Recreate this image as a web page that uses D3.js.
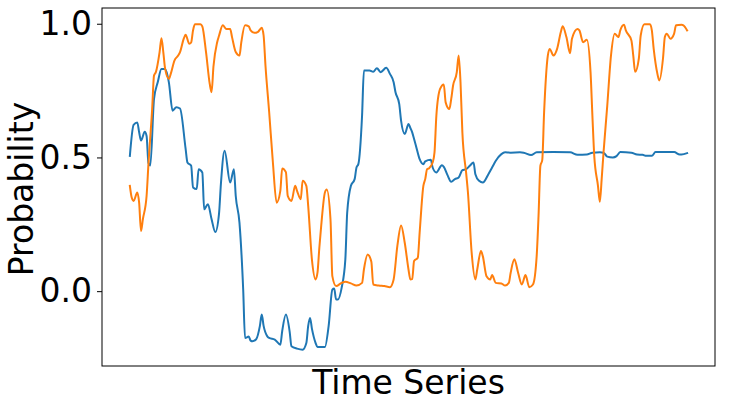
<!DOCTYPE html>
<html>
<head>
<meta charset="utf-8">
<script src="https://cdn.jsdelivr.net/npm/d3@7"></script>
<style>
  html, body { margin: 0; padding: 0; background: #fff; }
  svg { display: block; font-family: "DejaVu Sans", sans-serif; }
</style>
</head>
<body>
<svg id="chart" width="733" height="406"></svg>
<script>
// ---- data (time index 0..300, probability) ----
const blueT = [0,2,4,5,6,8,9,10,11,13,15,17,19,21,23,25,27,30,31,33,34,36,37,39,40,42,44,46,48,49,51,54,56,57,59,61,62,64,65,66,68,70,71,72,74,75,78,81,82,84,86,87,90,93,95,96,97,98,100,101,105,107,109,110,111,112,114,116,117,119,121,122,123,125,126,129,131,133,135,138,140,142,143,145,146,148,150,151,152,153,154,156,158,159,162,163,165,168,169,171,173,175,177,179,181,183,185,186,188,190,193,195,197,200,202,205,210,212,216,219,228,237,241,246,249,253,255,257,260,262,264,270,273,276,278,281,283,293,296,297,300];
const blueV = [0.506,0.622,0.631,0.594,0.563,0.596,0.58,0.48,0.47,0.719,0.781,0.831,0.831,0.781,0.675,0.688,0.683,0.533,0.481,0.469,0.388,0.382,0.456,0.444,0.306,0.325,0.269,0.221,0.29,0.40,0.525,0.406,0.456,0.356,0.256,0.007,-0.175,-0.17,-0.185,-0.1875,-0.18,-0.13,-0.0875,-0.13,-0.169,-0.175,-0.181,-0.2,-0.15,-0.0875,-0.15,-0.206,-0.215,-0.219,-0.194,-0.13,-0.1,-0.14,-0.194,-0.209,-0.209,-0.131,0.006,0.01,-0.031,-0.031,0.0125,0.119,0.294,0.394,0.419,0.4625,0.475,0.656,0.825,0.825,0.82,0.834,0.819,0.835,0.8125,0.781,0.744,0.70,0.638,0.588,0.625,0.61,0.594,0.569,0.544,0.494,0.475,0.485,0.491,0.4625,0.444,0.471,0.465,0.434,0.409,0.419,0.425,0.4525,0.456,0.469,0.481,0.4375,0.4125,0.406,0.4375,0.4625,0.4875,0.5125,0.519,0.518,0.519,0.518,0.509,0.519,0.52,0.519,0.51,0.511,0.518,0.519,0.518,0.503,0.5,0.505,0.52,0.518,0.511,0.51,0.506,0.506,0.52,0.52,0.511,0.511,0.516];

const orangeT = [0,1,2,4,5,6,7,9,10,12,13,14,16,17,18,19,21,22,24,26,27,29,30,32,33,34,35,38,39,41,43,44,45,47,48,50,52,54,55,57,59,60,62,64,65,67,69,71,72,73,75,77,79,81,82,84,85,87,89,90,92,93,95,96,98,100,101,102,103,105,106,108,109,111,114,116,119,122,125,126,128,130,131,134,137,140,142,144,146,148,150,151,152,153,155,156,158,159,160,161,163,164,165,167,169,170,172,173,174,176,177,178,179,181,182,184,186,187,189,190,192,194,195,197,200,202,204,205,207,209,211,213,215,217,219,220,221,222,223,225,226,228,230,232,233,235,237,238,241,242,244,246,248,249,250,252,253,254,255,257,259,261,263,264,266,267,270,271,272,274,275,277,280,281,282,284,285,287,288,289,291,293,294,297,298,300];
const orangeV = [0.394,0.35,0.3375,0.369,0.33,0.225,0.269,0.356,0.475,0.681,0.806,0.819,0.894,0.946,0.894,0.831,0.794,0.8125,0.8625,0.881,0.894,0.944,0.959,0.925,0.93,0.975,0.998,0.998,0.99,0.894,0.775,0.744,0.84,0.931,0.955,0.994,0.98,0.98,0.95,0.894,0.881,0.931,0.994,0.99,0.975,0.966,0.97,0.985,0.956,0.844,0.669,0.481,0.331,0.375,0.459,0.445,0.356,0.3375,0.394,0.375,0.344,0.4125,0.394,0.319,0.119,0.044,0.069,0.1625,0.244,0.369,0.38,0.269,0.056,0.019,0.031,0.035,0.029,0.021,0.031,0.081,0.1375,0.11,0.025,0.021,0.019,0.015,0.044,0.169,0.246,0.18,0.081,0.044,0.045,0.1125,0.125,0.219,0.394,0.419,0.456,0.459,0.481,0.519,0.656,0.756,0.773,0.706,0.681,0.719,0.769,0.819,0.881,0.781,0.594,0.444,0.369,0.144,0.044,0.081,0.15,0.131,0.056,0.044,0.06,0.031,0.029,0.021,0.031,0.069,0.119,0.069,0.025,0.06,0.015,0.025,0.131,0.281,0.469,0.49,0.669,0.881,0.906,0.881,0.906,0.969,0.991,0.95,0.89,0.944,0.98,0.975,0.931,0.94,0.819,0.656,0.506,0.394,0.334,0.42,0.519,0.694,0.881,0.963,0.95,0.975,0.996,0.975,0.9375,0.881,0.82,0.87,0.956,0.998,0.998,0.975,0.906,0.8125,0.7875,0.87,0.95,0.963,0.944,0.963,0.994,0.996,0.994,0.975];

const yTicks = [0.0, 0.5, 1.0];
const xLabel = "Time Series";
const yLabel = "Probability";
const colors = ["#1f77b4", "#ff7f0e"];

// ---- layout ----
const W = 733, H = 406;
const m = { left: 102, right: 715, top: 8, bottom: 366 };
const svg = d3.select("#chart");

const blue = blueT.map((t, i) => ({ t, v: blueV[i] }));
const orange = orangeT.map((t, i) => ({ t, v: orangeV[i] }));
const all = blue.concat(orange);

const tExt = d3.extent(all, d => d.t);
const vExt = d3.extent(all, d => d.v);
const tPad = (tExt[1] - tExt[0]) * 0.05;
const vPad = (vExt[1] - vExt[0]) * 0.05;

const x = d3.scaleLinear().domain([tExt[0] - tPad, tExt[1] + tPad]).range([m.left, m.right]);
const y = d3.scaleLinear().domain([vExt[0] - vPad, vExt[1] + vPad]).range([m.bottom, m.top]);

const line = d3.line().x(d => x(d.t)).y(d => y(d.v)).curve(d3.curveMonotoneX);

const plot = svg.append("g");
plot.append("defs").append("clipPath").attr("id", "clip")
  .append("rect").attr("x", m.left).attr("y", m.top)
  .attr("width", m.right - m.left).attr("height", m.bottom - m.top);

[blue, orange].forEach((s, i) => {
  plot.append("path")
    .datum(s)
    .attr("clip-path", "url(#clip)")
    .attr("fill", "none")
    .attr("stroke", colors[i])
    .attr("stroke-width", 2)
    .attr("stroke-linejoin", "round")
    .attr("stroke-linecap", "square")
    .attr("d", line);
});

// y axis
const yAxis = d3.axisLeft(y).tickValues(yTicks).tickFormat(d3.format(".1f")).tickSize(5).tickPadding(5);
const gy = svg.append("g").attr("transform", `translate(${m.left},0)`).call(yAxis);
gy.select(".domain").remove();
gy.selectAll(".tick line").attr("stroke", "#000").attr("stroke-width", 1);
gy.selectAll(".tick text").attr("font-size", 33).attr("font-family", "DejaVu Sans").attr("fill", "#000");

// frame
svg.append("rect")
  .attr("x", m.left).attr("y", m.top)
  .attr("width", m.right - m.left).attr("height", m.bottom - m.top)
  .attr("fill", "none").attr("stroke", "#000").attr("stroke-width", 1);

// labels
svg.append("text")
  .attr("x", (m.left + m.right) / 2).attr("y", 394)
  .attr("text-anchor", "middle").attr("font-size", 33).attr("fill", "#000")
  .text(xLabel);

svg.append("text")
  .attr("transform", `translate(33,${(m.top + m.bottom) / 2 + 2}) rotate(-90)`)
  .attr("text-anchor", "middle").attr("font-size", 33).attr("fill", "#000")
  .text(yLabel);
</script>
</body>
</html>
